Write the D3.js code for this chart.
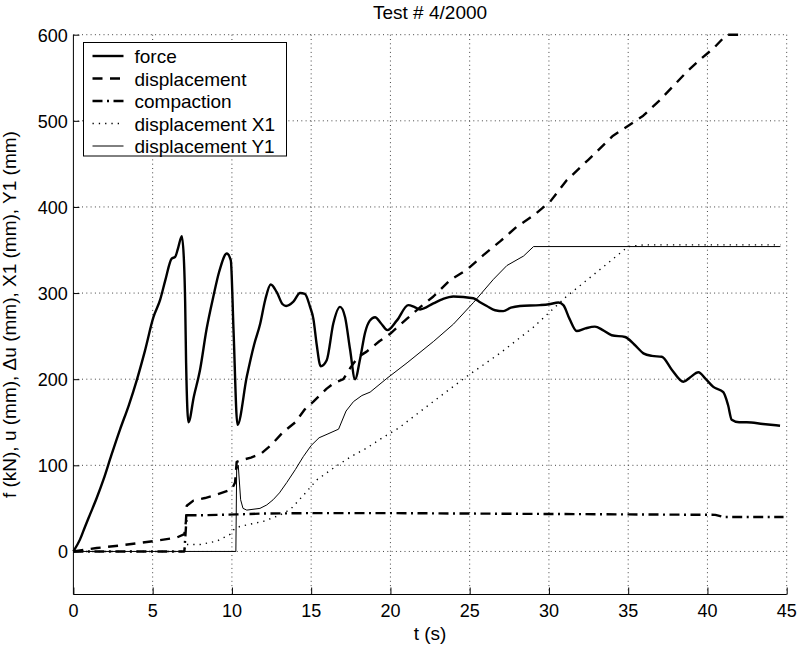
<!DOCTYPE html>
<html>
<head>
<meta charset="utf-8">
<script src="https://d3js.org/d3.v7.min.js"></script>
<style>
  body { margin: 0; background: #fff; }
  svg text { font-family: "Liberation Sans", Arial, Helvetica, sans-serif; fill: #000; }
</style>
</head>
<body>
<div id="chart"></div>
<script>
// test # 4/2000 records
const forceT = [0, 0.42, 0.74, 1.05, 1.47, 1.89, 2.4, 2.95, 3.5, 4.0, 4.5, 5.05, 5.47, 5.8, 6.2, 6.42, 6.6, 6.84, 6.98, 7.05, 7.11, 7.26, 7.6, 7.99, 8.4, 8.83, 9.2, 9.68, 9.93, 10.1, 10.35, 10.94, 11.4, 11.78, 12.1, 12.45, 12.83, 13.2, 13.42, 13.88, 14.3, 14.6, 14.93, 15.14, 15.35, 15.6, 15.98, 16.4, 16.82, 17.14, 17.45, 17.77, 18.1, 18.4, 18.7, 19.03, 19.4, 19.81, 20.4, 21.13, 21.5, 21.87, 22.71, 23.3, 23.97, 25.23, 25.6, 26.08, 26.6, 27.12, 27.6, 28.17, 29.44, 30.0, 30.6, 30.91, 31.3, 31.75, 32.3, 32.9, 33.4, 33.96, 34.8, 35.4, 35.96, 36.5, 37.12, 37.75, 38.48, 38.9, 39.43, 39.9, 40.37, 41.0, 41.3, 41.53, 42.0, 42.48, 43.5, 44.58];
const forceV = [0, 14, 29, 43, 62, 83, 112, 142, 170, 199, 232, 272, 292, 315, 340, 342, 352, 366, 335, 290, 219, 150, 180, 211, 258, 296, 325, 346, 338, 258, 147, 203, 240, 264, 292, 310, 301, 287, 285, 290, 300, 299, 284, 270, 240, 215, 222, 265, 284, 272, 235, 200, 225, 254, 268, 272, 265, 257, 268, 286, 284, 281, 288, 293, 296, 294, 290, 285, 280, 279, 283, 285, 286, 287, 289, 286, 270, 256, 259, 261, 257, 251, 249, 240, 230, 227, 226, 211, 197, 202, 208, 200, 191, 185, 170, 153, 150, 150, 148, 146];

const dispT = [0, 1.47, 3, 5.05, 6.5, 7.0, 7.1, 7.15, 7.57, 8.3, 9.05, 9.99, 10.2, 10.3, 10.6, 11.2, 11.8, 12.5, 13.2, 14.0, 14.6, 15.14, 15.98, 16.4, 17.03, 17.5, 17.98, 18.5, 19.3, 20.0, 21.03, 21.9, 22.71, 23.76, 24.82, 25.86, 26.92, 27.97, 29.02, 30.07, 31.12, 32.5, 34, 35.95, 37.0, 38.7, 39.53, 40.37, 41.0, 41.3, 42.4];
const dispV = [0, 4, 7, 12, 16, 20, 35, 53, 59, 62, 66, 72, 80, 104, 106, 109, 113, 124, 138, 150, 165, 174, 189, 195, 200, 214, 226, 232, 244, 253, 270, 284, 296, 315, 327, 344, 360, 377, 390, 406, 431, 455, 482, 506, 524, 557, 571, 584, 596, 600, 600];

const compT = [0, 7.0, 7.15, 8, 10.3, 12, 15, 20, 25, 30, 35, 40.5, 41, 44.8];
const compV = [0, 0, 42, 42, 43, 44, 44.5, 44.5, 44, 43.5, 43, 42.5, 40, 40];

const x1T = [0, 7.0, 7.05, 8, 9.05, 9.9, 10.1, 10.5, 12, 13, 13.7, 14.5, 15.35, 16.5, 17.5, 18.5, 19.5, 20.5, 22.7, 24.8, 26.9, 29.0, 31.1, 33.2, 35.0, 36, 44.6];
const x1V = [0, 0, 8, 8, 12, 20, 25, 29, 35, 42, 49, 65, 83, 98, 110, 120, 132, 143, 174, 203, 230, 260, 296, 327, 354, 356, 356];

const y1T = [0, 10.25, 10.3, 10.4, 10.55, 10.7, 10.94, 11.77, 12.2, 12.6, 13.0, 13.46, 14, 14.5, 15, 15.5, 16, 16.73, 17.2, 17.67, 18.2, 18.72, 19.78, 21.05, 22.73, 23.98, 25.24, 26.5, 27.35, 28.4, 29.03, 44.6];
const y1V = [0, 0, 95, 100, 60, 50, 48, 50, 54, 60, 68, 80, 95, 110, 123, 132, 136, 142, 163, 174, 181, 185, 201, 219, 244, 264, 289, 316, 332, 343, 354, 354];

const xTicks = [0, 5, 10, 15, 20, 25, 30, 35, 40, 45];
const yTicks = [0, 100, 200, 300, 400, 500, 600];
const legendLabels = ['force', 'displacement', 'compaction', 'displacement X1', 'displacement Y1'];

const W = 799, H = 648;
const margin = { top: 34.7, right: 12.3, bottom: 53.5, left: 73.4 };
const iw = W - margin.left - margin.right;
const ih = H - margin.top - margin.bottom;

const zip = (ts, vs) => ts.map((t, i) => ({ t: t, v: vs[i] }));

const series = [
  { data: zip(forceT, forceV), width: 2.4, dash: null, curve: d3.curveMonotoneX },
  { data: zip(dispT, dispV), width: 2.4, dash: '10,7.5', curve: d3.curveLinear },
  { data: zip(compT, compV), width: 2.4, dash: '10,4.5,2,4.5', curve: d3.curveLinear },
  { data: zip(x1T, x1V), width: 1.4, dash: '1.3,5', curve: d3.curveLinear },
  { data: zip(y1T, y1V), width: 1, dash: null, curve: d3.curveLinear }
];

const svg = d3.select('#chart')
  .append('svg')
  .attr('width', W)
  .attr('height', H);

const g = svg.append('g')
  .attr('transform', `translate(${margin.left}, ${margin.top})`);

const xScale = d3.scaleLinear().domain([0, 45]).range([0, iw]);
const yScale = d3.scaleLinear().domain([-50, 600]).range([ih, 0]);

// dotted grid
g.append('g')
  .selectAll('line')
  .data(xTicks.slice(1))
  .join('line')
  .attr('x1', d => xScale(d)).attr('x2', d => xScale(d))
  .attr('y1', 0).attr('y2', ih)
  .attr('stroke', '#444')
  .attr('stroke-width', 1)
  .attr('stroke-dasharray', '1,3.3');

g.append('g')
  .selectAll('line')
  .data(yTicks)
  .join('line')
  .attr('x1', 0).attr('x2', iw)
  .attr('y1', d => yScale(d)).attr('y2', d => yScale(d))
  .attr('stroke', '#444')
  .attr('stroke-width', 1)
  .attr('stroke-dasharray', '1,3.3');

// axes, ticks pointing inward
const xAxis = g.append('g')
  .attr('transform', `translate(0, ${ih})`)
  .call(d3.axisTop(xScale).tickValues(xTicks).tickSize(7).tickFormat(''));
xAxis.select('.domain').attr('d', `M0,0H${iw}`).attr('stroke', '#000');

g.append('g')
  .selectAll('text')
  .data(xTicks)
  .join('text')
  .attr('x', d => xScale(d))
  .attr('y', ih + 22.5)
  .attr('text-anchor', 'middle')
  .attr('font-size', 18)
  .text(d => d);

const yAxis = g.append('g')
  .call(d3.axisRight(yScale).tickValues(yTicks).tickSize(6).tickFormat(''));
yAxis.select('.domain').attr('d', `M0,0V${ih}`).attr('stroke', '#000');

g.append('g')
  .selectAll('text')
  .data(yTicks)
  .join('text')
  .attr('x', -5.5)
  .attr('y', d => yScale(d) + 7)
  .attr('text-anchor', 'end')
  .attr('font-size', 18)
  .text(d => d);

// series
series.forEach(s => {
  const line = d3.line()
    .x(d => xScale(d.t))
    .y(d => yScale(d.v))
    .curve(s.curve);
  g.append('path')
    .datum(s.data)
    .attr('fill', 'none')
    .attr('stroke', '#000')
    .attr('stroke-width', s.width)
    .attr('stroke-dasharray', s.dash)
    .attr('stroke-linejoin', 'round')
    .attr('d', line);
});

// legend
const legend = svg.append('g').attr('transform', 'translate(83.5, 42.5)');
legend.append('rect')
  .attr('width', 203)
  .attr('height', 113.5)
  .attr('fill', '#fff')
  .attr('stroke', '#000')
  .attr('stroke-width', 1);

legendLabels.forEach((label, i) => {
  const yy = 13.5 + i * 22.5;
  legend.append('line')
    .attr('x1', 9).attr('x2', 40)
    .attr('y1', yy).attr('y2', yy)
    .attr('stroke', '#000')
    .attr('stroke-width', series[i].width)
    .attr('stroke-dasharray', series[i].dash);
  legend.append('text')
    .attr('x', 51)
    .attr('y', yy + 7)
    .attr('font-size', 19)
    .text(label);
});

// titles
svg.append('text')
  .attr('x', margin.left + iw / 2)
  .attr('y', 19)
  .attr('text-anchor', 'middle')
  .attr('font-size', 19)
  .text('Test # 4/2000');

svg.append('text')
  .attr('x', margin.left + iw / 2)
  .attr('y', 640)
  .attr('text-anchor', 'middle')
  .attr('font-size', 19)
  .text('t (s)');

svg.append('text')
  .attr('transform', `translate(15.5, ${margin.top + ih / 2}) rotate(-90)`)
  .attr('text-anchor', 'middle')
  .attr('font-size', 19)
  .text('f (kN), u (mm), \u0394u (mm), X1 (mm), Y1 (mm)');
</script>
</body>
</html>
